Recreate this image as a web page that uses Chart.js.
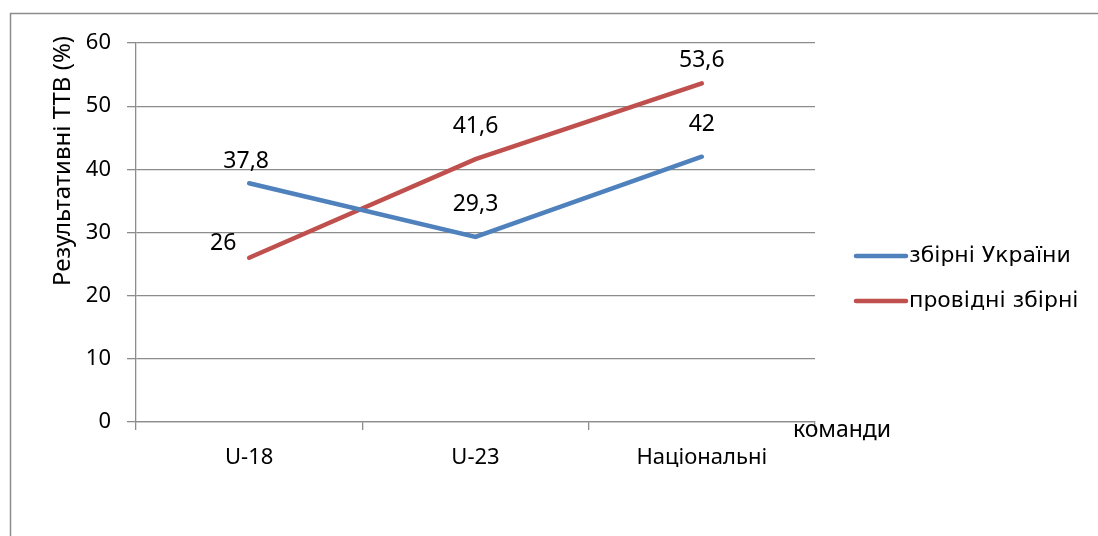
<!DOCTYPE html>
<html>
<head>
<meta charset="utf-8">
<script src="https://cdn.jsdelivr.net/npm/chart.js@4"></script>
<style>
    html, body { margin: 0; padding: 0; background: #fff; }
    #wrap { width: 1098px; height: 536px; position: relative; }
</style>
</head>
<body>
<div id="wrap"><canvas id="ttvChart" width="1098" height="536"></canvas></div>
<script>
const categories = ['U-18', 'U-23', 'Національні'];
const ukraineValues = [37.8, 29.3, 42];
const leadingValues = [26, 41.6, 53.6];
const seriesNames = ['збірні України', 'провідні збірні'];
const yTicks = [0, 10, 20, 30, 40, 50, 60];

const textFont = '"Noto Sans", "Open Sans", sans-serif';
const gridColor = '#8c8c8c';

// label offsets (dx, dy) relative to each point, per dataset
const labelOffsets = [
    [[-3, -22], [0, -32], [0, -32]],
    [[-26, -14], [0, -33], [0, -23]]
];

const decor = {
    id: 'decor',
    beforeDraw(chart) {
        const ctx = chart.ctx;
        ctx.save();
        ctx.fillStyle = '#fff';
        ctx.fillRect(0, 0, chart.width, chart.height);
        ctx.strokeStyle = '#8c8c8c';
        ctx.lineWidth = 1.5;
        ctx.strokeRect(10.5, 13.5, 1200, 700);
        ctx.restore();
    },
    afterDraw(chart) {
        const ctx = chart.ctx;
        ctx.save();
        ctx.fillStyle = '#000';
        ctx.font = '23px ' + textFont;
        ctx.textAlign = 'center';
        ctx.textBaseline = 'middle';

        // data labels
        chart.data.datasets.forEach((ds, i) => {
            const meta = chart.getDatasetMeta(i);
            meta.data.forEach((pt, j) => {
                const off = labelOffsets[i][j];
                const txt = String(ds.data[j]).replace('.', ',');
                ctx.fillText(txt, pt.x + off[0], pt.y + off[1]);
            });
        });

        // axis titles
        ctx.fillText('команди', 842, 430);
        ctx.save();
        ctx.translate(63, 161);
        ctx.rotate(-Math.PI / 2);
        ctx.font = '24px ' + textFont;
        ctx.fillText('Результативні ТТВ (%)', 0, 0);
        ctx.restore();

        // legend
        ctx.textAlign = 'left';
        ctx.font = '22px "DejaVu Sans", sans-serif';
        ctx.lineCap = 'round';
        chart.data.datasets.forEach((ds, i) => {
            const y = 256 + i * 45;
            ctx.strokeStyle = ds.borderColor;
            ctx.lineWidth = 4.5;
            ctx.beginPath();
            ctx.moveTo(856, y);
            ctx.lineTo(906, y);
            ctx.stroke();
            ctx.fillStyle = '#000';
            ctx.fillText(ds.label, 909, y);
        });
        ctx.restore();
    }
};

new Chart(document.getElementById('ttvChart'), {
    type: 'line',
    data: {
        labels: categories,
        datasets: [
            {
                label: seriesNames[0],
                data: ukraineValues,
                borderColor: '#4f81bd',
                borderWidth: 4.5,
                pointRadius: 0,
                tension: 0,
                borderCapStyle: 'round'
            },
            {
                label: seriesNames[1],
                data: leadingValues,
                borderColor: '#c0504d',
                borderWidth: 4.5,
                pointRadius: 0,
                tension: 0,
                borderCapStyle: 'round'
            }
        ]
    },
    options: {
        responsive: false,
        animation: false,
        devicePixelRatio: 1,
        layout: {
            padding: { left: 0, top: 43, right: 283, bottom: 0 }
        },
        plugins: {
            legend: { display: false },
            tooltip: { enabled: false }
        },
        scales: {
            x: {
                offset: true,
                afterFit: s => { s.height = 114; },
                grid: {
                    offset: true,
                    drawOnChartArea: false,
                    drawTicks: true,
                    tickLength: 8,
                    color: gridColor,
                    lineWidth: 1.3
                },
                border: { color: gridColor, width: 1.3 },
                ticks: {
                    color: '#000',
                    padding: 15,
                    font: { family: textFont, size: 22 }
                }
            },
            y: {
                min: 0,
                max: 60,
                afterFit: s => { s.width = 136; },
                afterBuildTicks: s => { s.ticks = yTicks.map(v => ({ value: v })); },
                grid: {
                    color: gridColor,
                    lineWidth: 1.3,
                    tickLength: 9
                },
                border: { color: gridColor, width: 1.3 },
                ticks: {
                    color: '#000',
                    padding: 16,
                    font: { family: textFont, size: 22 }
                }
            }
        }
    },
    plugins: [decor]
});
</script>
</body>
</html>
